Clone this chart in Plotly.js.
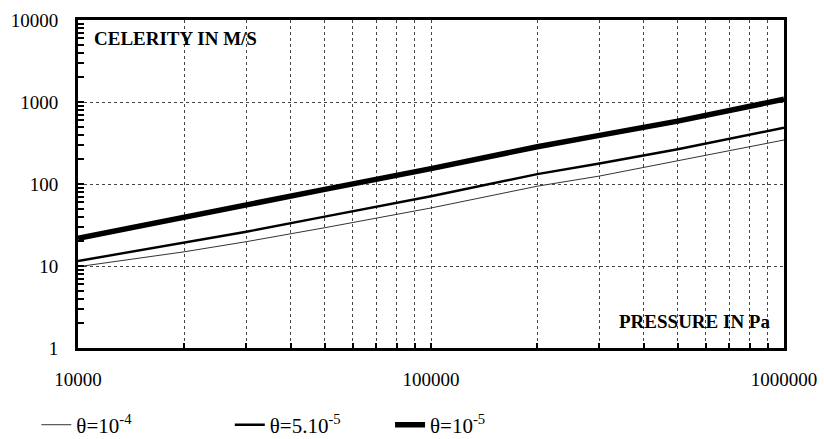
<!DOCTYPE html>
<html>
<head>
<meta charset="utf-8">
<script src="https://cdn.plot.ly/plotly-3.0.1.min.js"></script>
<style>html,body{margin:0;padding:0;background:#fff;}#chart{width:824px;height:439px;}</style>
</head>
<body>
<div id="chart"></div>
<script>
// Pressure in Pa (x)
const pressure = [10000, 20000, 30000, 50000, 100000, 200000, 300000, 500000, 1000000];
// Celerity in m/s (y) for each theta
const celerityTheta1e4 = [9.8, 14.9, 19.8, 29.3, 51, 94, 125, 192, 344];
const celerityTheta5e5 = [11.5, 19.2, 26.2, 40, 71, 132, 178, 265, 486];
const celerityTheta1e5 = [21.8, 40, 55.5, 86, 154, 285, 392, 585, 1080];
const seriesNames = ["θ=10<sup>-4</sup>", "θ=5.10<sup>-5</sup>", "θ=10<sup>-5</sup>"];
const xTickVals = [10000, 100000, 1000000];
const xTickText = ["10000", "100000", "1000000"];
const yTickVals = [1, 10, 100, 1000, 10000];
const yTickText = ["1", "10", "100", "1000", "10000"];

const serif = "Liberation Serif, Times New Roman, serif";

const traces = [
  {x: pressure, y: celerityTheta1e4, name: seriesNames[0], mode: "lines",
   line: {color: "#333", width: 1}, legend: "legend"},
  {x: pressure, y: celerityTheta5e5, name: seriesNames[1], mode: "lines",
   line: {color: "#000", width: 2.4}, legend: "legend2"},
  {x: pressure, y: celerityTheta1e5, name: seriesNames[2], mode: "lines",
   line: {color: "#000", width: 5.5}, legend: "legend3"}
];

const legendBase = {orientation: "h", yanchor: "middle", y: -0.235, xanchor: "left",
  font: {family: serif, size: 21, color: "#000"}, bgcolor: "rgba(0,0,0,0)", borderwidth: 0};

const layout = {
  width: 824, height: 439,
  font: {family: serif},
  margin: {l: 78, r: 40, t: 20, b: 91, autoexpand: false},
  paper_bgcolor: "#fff", plot_bgcolor: "#fff",
  showlegend: true,
  legend: Object.assign({}, legendBase, {x: -0.059}),
  legend2: Object.assign({}, legendBase, {x: 0.215}),
  legend3: Object.assign({}, legendBase, {x: 0.442}),
  xaxis: {
    type: "log", range: [4, 6],
    tickmode: "array", tickvals: xTickVals, ticktext: xTickText,
    tickfont: {family: serif, size: 19, color: "#000"},
    ticks: "inside", ticklen: 5, tickwidth: 2, tickcolor: "#000",
    ticklabelstandoff: 12,
    showline: true, linewidth: 3, linecolor: "#000", mirror: true,
    showgrid: true, gridcolor: "#444", griddash: "dot", gridwidth: 1,
    minor: {showgrid: true, gridcolor: "#444", griddash: "dot", gridwidth: 1,
            ticks: "inside", ticklen: 5, tickwidth: 2, tickcolor: "#000", dtick: "D1"},
    zeroline: false
  },
  yaxis: {
    type: "log", range: [0, 4],
    tickmode: "array", tickvals: yTickVals, ticktext: yTickText,
    tickfont: {family: serif, size: 19, color: "#000"},
    ticks: "inside", ticklen: 6, tickwidth: 2, tickcolor: "#000",
    ticklabelstandoff: 13,
    showline: true, linewidth: 3, linecolor: "#000", mirror: true,
    showgrid: true, gridcolor: "#444", griddash: "dot", gridwidth: 1,
    minor: {showgrid: false, ticks: "inside", ticklen: 6, tickwidth: 2, tickcolor: "#000", dtick: "D1"},
    zeroline: false
  },
  annotations: [
    {text: "<b>CELERITY IN M/S</b>", xref: "paper", yref: "paper", x: 0.02, y: 0.945,
     xanchor: "left", yanchor: "middle", showarrow: false,
     font: {family: serif, size: 19, color: "#000"}},
    {text: "<b>PRESSURE IN Pa</b>", xref: "paper", yref: "paper", x: 0.983, y: 0.08,
     xanchor: "right", yanchor: "middle", showarrow: false,
     font: {family: serif, size: 19, color: "#000"}}
  ]
};

Plotly.newPlot("chart", traces, layout, {displayModeBar: false, staticPlot: true});
</script>
</body>
</html>
